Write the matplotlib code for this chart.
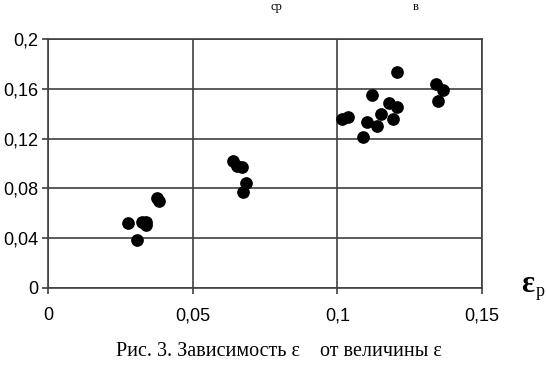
import numpy as np
import matplotlib.pyplot as plt

# points (eps_p, eps_sr)
x = np.array([0.0277, 0.0306, 0.0325, 0.0340, 0.0340, 0.0377, 0.0383,
              0.0638, 0.0652, 0.0669, 0.0684, 0.0674,
              0.1207, 0.1340, 0.1366, 0.1349, 0.1121, 0.1177, 0.1206,
              0.1152, 0.1193, 0.1103, 0.1138, 0.1089, 0.1015, 0.1038])
y = np.array([0.0524, 0.0385, 0.0528, 0.0532, 0.0506, 0.0720, 0.0699,
              0.1022, 0.0980, 0.0969, 0.0841, 0.0773,
              0.1737, 0.1641, 0.1588, 0.1499, 0.1552, 0.1488, 0.1453,
              0.1395, 0.1359, 0.1331, 0.1301, 0.1215, 0.1359, 0.1371])

xticks = [0, 0.05, 0.1, 0.15]
xlabels = ["0", "0,05", "0,1", "0,15"]
yticks = [0, 0.04, 0.08, 0.12, 0.16, 0.2]
ylabels = ["0", "0,04", "0,08", "0,12", "0,16", "0,2"]

line_col = "#404040"

fig = plt.figure(figsize=(5.46, 3.66), dpi=100)
ax = fig.add_axes([48/546, 1 - 288/366, (482-48)/546, (288-39)/366])

ax.scatter(x, y, s=66, c="black", zorder=3, clip_on=False)

ax.set_xlim(0, 0.15)
ax.set_ylim(0, 0.2)
ax.set_xticks(xticks)
ax.set_xticklabels(xlabels, family="Liberation Sans", fontsize=13)
ax.set_yticks(yticks)
ax.set_yticklabels(ylabels, family="Liberation Sans", fontsize=13)
ax.tick_params(direction="out", length=4, width=1.2, color=line_col, pad=10)
ax.tick_params(axis="y", pad=3)
ax.grid(True, color=line_col, linewidth=1.2)
for sp in ax.spines.values():
    sp.set_color(line_col)
    sp.set_linewidth(1.2)

# axis name to the right of the x axis
fig.text(521/546, 1 - 285/366, "ε", family="Liberation Serif", fontsize=22,
         fontweight="bold", va="center", ha="left")
fig.text(536/546, 1 - 292/366, "p", family="Liberation Serif", fontsize=13,
         va="center", ha="left")

# stray subscripts at the top
fig.text(276/546, 1 - 1/366, "ср", family="Liberation Serif", fontsize=9,
         va="top", ha="center")
fig.text(416/546, 1 - 1/366, "в", family="Liberation Serif", fontsize=9,
         va="top", ha="center")

fig.text(279/546, 1 - 352/366, "Рис. 3. Зависимость ε    от величины ε",
         family="Liberation Serif", fontsize=14.5, ha="center", va="center")

fig.savefig("out.png", dpi=100)
